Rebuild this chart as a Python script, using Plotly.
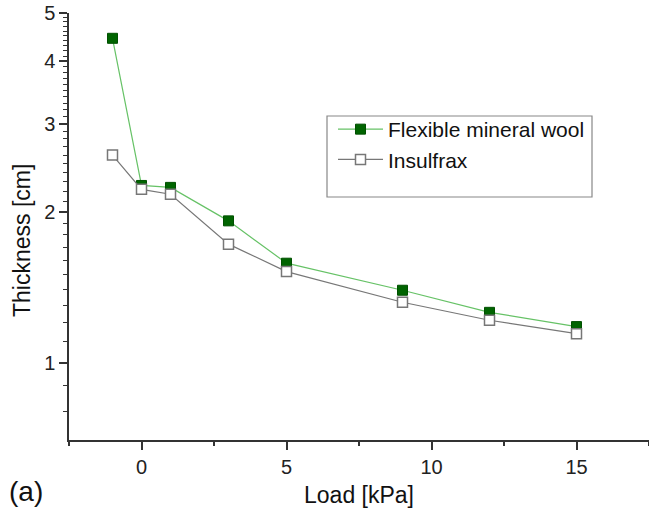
import plotly.graph_objects as go
import math

# ---- data ----
load_kpa = [-1, 0, 1, 3, 5, 9, 12, 15]
flexible_mineral_wool = [4.45, 2.26, 2.24, 1.92, 1.58, 1.395, 1.26, 1.18]
insulfrax = [2.60, 2.22, 2.17, 1.725, 1.52, 1.32, 1.215, 1.142]

series_names = ["Flexible mineral wool", "Insulfrax"]
x_title = "Load [kPa]"
y_title = "Thickness [cm]"
panel_label = "(a)"
y_major_ticks = [1, 2, 3, 4, 5]
y_tick_labels = ["1", "2", "3", "4", "5"]
y_minor_ticks = [0.8, 0.9] + [round(d + 0.1 * k, 1) for d in (1, 2, 3, 4) for k in range(1, 10)]

FONT = "Liberation Sans, Arial, sans-serif"
AX = "#333333"

fig = go.Figure()
fig.add_trace(go.Scatter(
    x=load_kpa, y=flexible_mineral_wool, name=series_names[0],
    mode="lines+markers",
    line=dict(color="#66c266", width=1.2),
    marker=dict(symbol="square", size=10, color="#006400",
                line=dict(color="#005000", width=1)),
))
fig.add_trace(go.Scatter(
    x=load_kpa, y=insulfrax, name=series_names[1],
    mode="lines+markers",
    line=dict(color="#777777", width=1.2),
    marker=dict(symbol="square", size=10, color="white",
                line=dict(color="#777777", width=1.5)),
))

fig.update_layout(
    width=649, height=515,
    margin=dict(l=69, r=0, t=13, b=75),
    paper_bgcolor="white", plot_bgcolor="white",
    font=dict(family=FONT, size=20, color="#222222"),
    showlegend=True,
    legend=dict(
        x=(333 - 69) / 580, y=(440 - 109) / 427, xanchor="left", yanchor="top",
        bgcolor="rgba(0,0,0,0)", borderwidth=0,
        font=dict(family=FONT, size=21, color="#111111"),
        tracegroupgap=0, itemwidth=45,
    ),
    xaxis=dict(
        range=[-2.5, 17.5], showline=True, linecolor=AX, linewidth=1.5,
        ticks="outside", ticklen=8, tickwidth=1.5, tickcolor=AX,
        tick0=0, dtick=5, showgrid=False, zeroline=False,
        minor=dict(tick0=0, dtick=2.5, ticks="outside", ticklen=4, tickwidth=1.5, tickcolor=AX),
        title=dict(text=x_title, font=dict(size=23, color="#111111"), standoff=10),
        tickfont=dict(size=20, color="#222222"),
    ),
    yaxis=dict(
        type="log", range=[math.log10(0.7), math.log10(5)],
        showline=True, linecolor=AX, linewidth=1.5,
        ticks="outside", ticklen=8, tickwidth=1.5, tickcolor=AX,
        tickmode="array", tickvals=y_major_ticks, ticktext=y_tick_labels,
        minor=dict(tickmode="array", tickvals=y_minor_ticks, ticks="outside",
                   ticklen=4, tickwidth=1.3, tickcolor=AX),
        showgrid=False, zeroline=False,
        tickfont=dict(size=20, color="#222222"),
    ),
    xaxis2=dict(
        overlaying="x", side="top", anchor="y", range=[0, 10],
        showline=True, linecolor=AX, linewidth=1.5,
        ticks="inside", ticklen=8, tickwidth=1.5, tickcolor=AX,
        tick0=0, dtick=2, showticklabels=False, showgrid=False, zeroline=False,
        minor=dict(tick0=0, dtick=1, ticks="inside", ticklen=4, tickwidth=1.5, tickcolor=AX),
    ),
    yaxis2=dict(
        overlaying="y", side="right", anchor="x", range=[0, 10],
        showline=False,
        ticks="inside", ticklen=8, tickwidth=1.5, tickcolor=AX,
        tick0=0, dtick=2, showticklabels=False, showgrid=False, zeroline=False,
        minor=dict(tick0=0, dtick=1, ticks="inside", ticklen=4, tickwidth=1.5, tickcolor=AX),
    ),
    shapes=[dict(
        type="rect", xref="paper", yref="paper",
        x0=(327 - 69) / 580, x1=(592 - 69) / 580,
        y0=(440 - 197) / 427, y1=(440 - 116) / 427,
        line=dict(color="#888888", width=1.2), fillcolor="rgba(0,0,0,0)",
    )],
    annotations=[
        dict(text=y_title, xref="paper", yref="paper",
             x=(22 - 69) / 580, y=(440 - 241) / 427, xanchor="center", yanchor="middle",
             textangle=-90, showarrow=False, font=dict(size=23, color="#111111")),
        dict(text=panel_label, xref="paper", yref="paper",
             x=(7 - 69) / 580, y=(440 - 492) / 427, xanchor="left", yanchor="middle",
             showarrow=False, font=dict(size=28, color="#111111")),
    ],
)

fig.write_html("out.html")
